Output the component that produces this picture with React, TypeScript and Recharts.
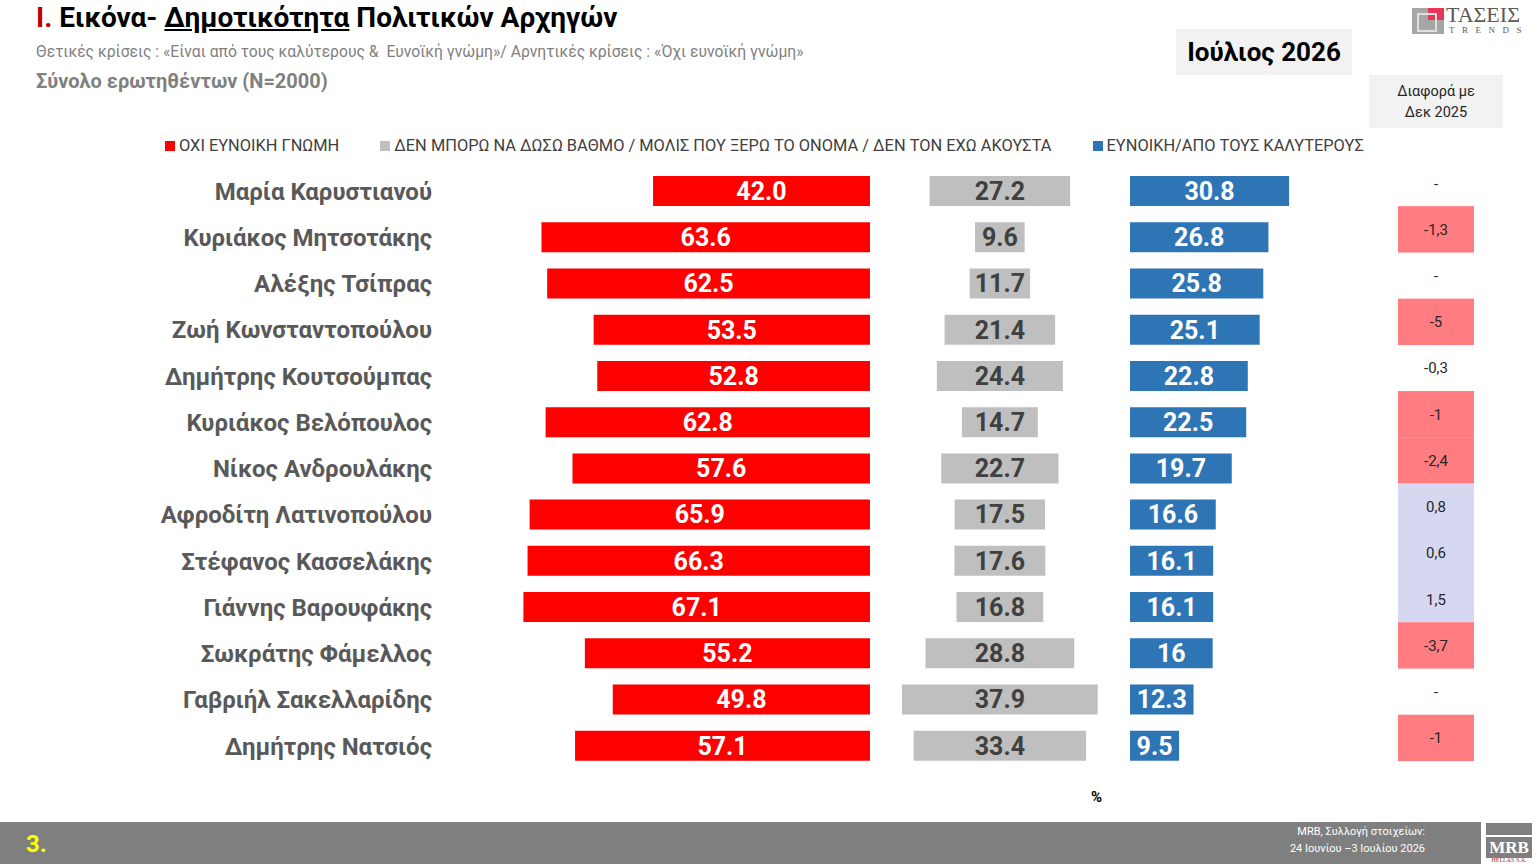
import { BarChart, Bar, XAxis, YAxis, LabelList } from 'recharts'

const leaders = [
  'Μαρία Καρυστιανού',
  'Κυριάκος Μητσοτάκης',
  'Αλέξης Τσίπρας',
  'Ζωή Κωνσταντοπούλου',
  'Δημήτρης Κουτσούμπας',
  'Κυριάκος Βελόπουλος',
  'Νίκος Ανδρουλάκης',
  'Αφροδίτη Λατινοπούλου',
  'Στέφανος Κασσελάκης',
  'Γιάννης Βαρουφάκης',
  'Σωκράτης Φάμελλος',
  'Γαβριήλ Σακελλαρίδης',
  'Δημήτρης Νατσιός',
]
const unfavorable = ['42.0', '63.6', '62.5', '53.5', '52.8', '62.8', '57.6', '65.9', '66.3', '67.1', '55.2', '49.8', '57.1']
const noOpinion = ['27.2', '9.6', '11.7', '21.4', '24.4', '14.7', '22.7', '17.5', '17.6', '16.8', '28.8', '37.9', '33.4']
const favorable = ['30.8', '26.8', '25.8', '25.1', '22.8', '22.5', '19.7', '16.6', '16.1', '16.1', '16', '12.3', '9.5']
const diffDec2025 = ['-', '-1,3', '-', '-5', '-0,3', '-1', '-2,4', '0,8', '0,6', '1,5', '-3,7', '-', '-1']

const seriesNames = [
  'ΟΧΙ ΕΥΝΟΙΚΗ ΓΝΩΜΗ',
  'ΔΕΝ ΜΠΟΡΩ ΝΑ ΔΩΣΩ ΒΑΘΜΟ / ΜΟΛΙΣ ΠΟΥ ΞΕΡΩ ΤΟ ΟΝΟΜΑ / ΔΕΝ ΤΟΝ ΕΧΩ ΑΚΟΥΣΤΑ',
  'ΕΥΝΟΙΚΗ/ΑΠΟ ΤΟΥΣ ΚΑΛΥΤΕΡΟΥΣ',
]
const seriesColors = ['#FF0000', '#BFBFBF', '#2E75B6']

// panel anchors, in axis units
const RED_END = 83.25
const GREY_MID = 108.4
const BLUE_START = 133.6
const X_MAX = 182

const FONT = 'Roboto, "Noto Sans", sans-serif'

const rows = leaders.map((name, i) => {
  const r = parseFloat(unfavorable[i])
  const g = parseFloat(noOpinion[i])
  const b = parseFloat(favorable[i])
  return {
    name,
    r, g, b,
    rl: unfavorable[i], gl: noOpinion[i], bl: favorable[i],
    pad1: RED_END - r,
    pad2: GREY_MID - g / 2 - RED_END,
    pad3: BLUE_START - GREY_MID - g / 2,
    diff: diffDec2025[i],
  }
})

function diffFill(d: string) {
  const v = parseFloat(d.replace(',', '.'))
  if (isNaN(v)) return null
  if (v > 0) return '#D6D8F2'
  if (v <= -1) return '#FF7C80'
  return null
}

function LeaderTick(props: any) {
  const { x, y, payload } = props
  const idx = payload.index ?? props.index
  const d = rows[idx]?.diff ?? ''
  const fill = diffFill(d)
  const cy = y - 8
  return (
    <g>
      <text x={x} y={y} dy="0.36em" textAnchor="end" fill="#595959" fontSize={24} fontWeight={700}>
        {payload.value}
      </text>
      {fill && <rect x={1398} y={cy - 23.2} width={76} height={46.4} fill={fill} />}
      <text x={1436} y={cy} dy="0.36em" textAnchor="middle" fill="#262626" fontSize={15}>
        {d}
      </text>
    </g>
  )
}

export default function App() {
  return (
    <div style={{ position: 'relative', width: 1536, height: 864, background: '#fff', fontFamily: FONT, overflow: 'hidden' }}>
      <style>{`body{margin:0}`}</style>

      {/* header */}
      <div style={{ position: 'absolute', left: 36, top: 1, fontSize: 28, fontWeight: 700, color: '#000', whiteSpace: 'nowrap' }}>
        <span style={{ color: '#C00000' }}>I. </span>Εικόνα- <span style={{ textDecoration: 'underline' }}>Δημοτικότητα</span> Πολιτικών Αρχηγών
      </div>
      <div style={{ position: 'absolute', left: 36, top: 42, fontSize: 15.7, color: '#7F7F7F', whiteSpace: 'pre' }}>
        Θετικές κρίσεις : «Είναι από τους καλύτερους &  Ευνοϊκή γνώμη»/ Αρνητικές κρίσεις : «Όχι ευνοϊκή γνώμη»
      </div>
      <div style={{ position: 'absolute', left: 36, top: 69, fontSize: 20, fontWeight: 700, color: '#808080' }}>
        Σύνολο ερωτηθέντων (N=2000)
      </div>

      <div style={{ position: 'absolute', left: 1176, top: 29, width: 176, height: 46, background: '#F2F2F2', display: 'flex', alignItems: 'center', justifyContent: 'center', fontSize: 26, fontWeight: 700, color: '#000' }}>
        Ιούλιος 2026
      </div>
      <div style={{ position: 'absolute', left: 1369, top: 75, width: 134, height: 53, background: '#F2F2F2', display: 'flex', alignItems: 'center', justifyContent: 'center', textAlign: 'center', fontSize: 14.5, lineHeight: '21px', color: '#262626' }}>
        Διαφορά με<br />Δεκ 2025
      </div>

      {/* logo */}
      <div style={{ position: 'absolute', left: 1412, top: 8, width: 32, height: 26, background: '#A6A6A6' }}>
        <div style={{ position: 'absolute', left: 16, top: 0, width: 16, height: 12, background: '#E8355A' }} />
        <div style={{ position: 'absolute', left: 5, top: 5, width: 16, height: 15, border: '2px solid #E0E0E0' }} />
      </div>
      <div style={{ position: 'absolute', left: 1446, top: 3, fontFamily: '"Liberation Serif", serif', fontSize: 22, color: '#595959', lineHeight: '24px' }}>ΤΑΣΕΙΣ</div>
      <div style={{ position: 'absolute', left: 1449, top: 25, fontFamily: '"Liberation Serif", serif', fontSize: 9, letterSpacing: 7.5, color: '#595959' }}>TRENDS</div>

      {/* legend */}
      <div style={{ position: 'absolute', left: 165, top: 136, display: 'flex', gap: 41, fontSize: 16.4, color: '#404040', whiteSpace: 'nowrap' }}>
        {seriesNames.map((n, i) => (
          <div key={n} style={{ display: 'flex', alignItems: 'center', gap: 4 }}>
            <span style={{ width: 10, height: 10, background: seriesColors[i], display: 'inline-block' }} />
            <span>{n}</span>
          </div>
        ))}
      </div>

      {/* chart */}
      <div style={{ position: 'absolute', left: 0, top: 160 }}>
        <BarChart width={1536} height={609} data={rows} layout="vertical" barSize={30}
          margin={{ top: 8, right: 1536 - 440 - Math.round(X_MAX * 5.165), bottom: 0, left: 0 }}>
          <XAxis type="number" domain={[0, X_MAX]} hide allowDataOverflow />
          <YAxis type="category" dataKey="name" width={440} tickLine={false} axisLine={false} interval={0} tick={<LeaderTick />} />
          <Bar dataKey="pad1" stackId="a" fill="transparent" isAnimationActive={false} />
          <Bar dataKey="r" stackId="a" fill={seriesColors[0]} isAnimationActive={false}>
            <LabelList dataKey="rl" position="center" fill="#FFFFFF" fontSize={25} fontWeight={700} />
          </Bar>
          <Bar dataKey="pad2" stackId="a" fill="transparent" isAnimationActive={false} />
          <Bar dataKey="g" stackId="a" fill={seriesColors[1]} isAnimationActive={false}>
            <LabelList dataKey="gl" position="center" fill="#404040" fontSize={25} fontWeight={700} />
          </Bar>
          <Bar dataKey="pad3" stackId="a" fill="transparent" isAnimationActive={false} />
          <Bar dataKey="b" stackId="a" fill={seriesColors[2]} isAnimationActive={false}>
            <LabelList dataKey="bl" position="center" fill="#FFFFFF" fontSize={25} fontWeight={700} />
          </Bar>
        </BarChart>
      </div>

      <div style={{ position: 'absolute', left: 1091, top: 788, fontSize: 15, fontWeight: 700, color: '#000' }}>%</div>

      {/* footer */}
      <div style={{ position: 'absolute', left: 0, top: 822, width: 1481, height: 42, background: '#7F7F7F' }}>
        <div style={{ position: 'absolute', left: 26, top: 8, fontSize: 24, fontWeight: 700, color: '#FFFF00' }}>3.</div>
        <div style={{ position: 'absolute', right: 56, top: 1, fontSize: 11, lineHeight: '17px', color: '#FFFFFF', textAlign: 'right' }}>
          MRB, Συλλογή στοιχείων:<br />24 Ιουνίου –3 Ιουλίου 2026
        </div>
      </div>
      <div style={{ position: 'absolute', left: 1486, top: 823, width: 46, height: 12, background: '#7F7F7F' }} />
      <div style={{ position: 'absolute', left: 1486, top: 837, width: 46, height: 21, background: '#7F7F7F', color: '#fff', fontFamily: '"Liberation Serif", serif', fontWeight: 700, fontSize: 17, lineHeight: '21px', textAlign: 'center' }}>MRB</div>
      <div style={{ position: 'absolute', left: 1484, top: 857, width: 50, fontSize: 6, color: '#A0303A', textAlign: 'center', fontFamily: '"Liberation Serif", serif' }}>HELLAS S.A.</div>
    </div>
  )
}
